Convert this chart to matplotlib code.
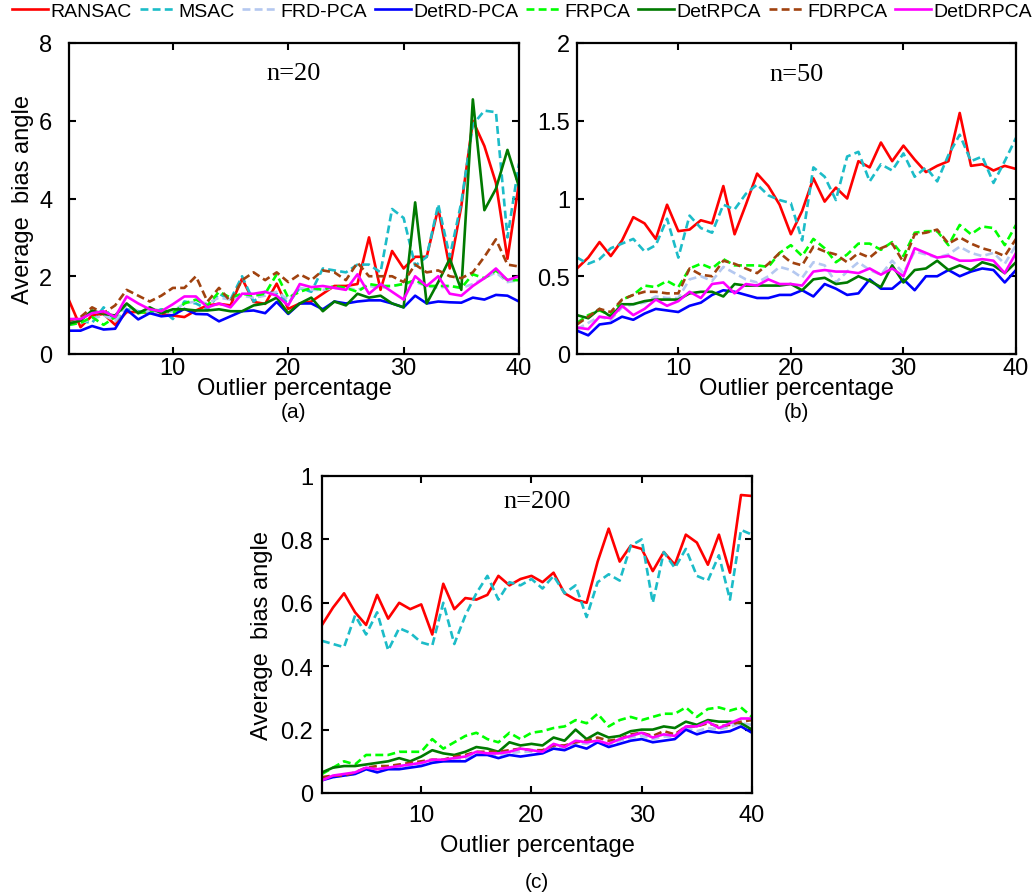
import numpy as np
import matplotlib.pyplot as plt

plt.rcParams['font.family'] = ['Liberation Sans', 'DejaVu Sans']

x = np.arange(1, 41)

methods = ['RANSAC', 'MSAC', 'FRD-PCA', 'DetRD-PCA', 'FRPCA', 'DetRPCA', 'FDRPCA', 'DetDRPCA']

# n=20
ransac_a = [1.38, 0.69, 0.99, 1.03, 0.75, 1.08, 1.08, 1.06, 1.03, 0.99, 0.95, 1.12, 1.25, 1.29, 1.25, 1.94, 1.34, 1.29, 1.81, 1.16,
            1.30, 1.35, 1.55, 1.75, 1.75, 1.80, 3.00, 1.65, 2.65, 2.20, 2.50, 2.50, 3.75, 2.20, 3.80, 6.00, 5.35, 4.40, 2.45, 4.40]
msac_a = [0.80, 0.85, 0.80, 1.20, 0.85, 1.15, 1.10, 1.05, 1.15, 0.90, 1.35, 1.30, 1.15, 1.55, 1.40, 2.00, 1.35, 1.60, 1.55, 1.30,
          1.70, 1.60, 2.20, 2.15, 2.10, 2.30, 2.30, 2.10, 3.73, 3.50, 2.27, 2.50, 3.85, 2.50, 3.90, 5.90, 6.26, 6.22, 3.00, 4.90]
frd_a = [0.75, 0.80, 0.90, 1.00, 0.85, 1.25, 1.10, 1.10, 1.05, 1.10, 1.30, 1.35, 1.30, 1.45, 1.40, 1.50, 1.45, 1.50, 1.60, 1.40,
         1.70, 1.65, 1.65, 1.70, 1.70, 1.65, 1.75, 1.70, 1.75, 1.80, 1.85, 1.75, 1.70, 1.75, 1.70, 1.80, 1.95, 2.10, 1.85, 1.90]
detrd_a = [0.60, 0.60, 0.72, 0.63, 0.65, 1.14, 0.89, 1.05, 0.97, 1.00, 1.16, 1.03, 1.02, 0.84, 0.97, 1.10, 1.12, 1.05, 1.34, 1.03,
           1.30, 1.30, 1.15, 1.35, 1.30, 1.35, 1.38, 1.38, 1.30, 1.20, 1.50, 1.30, 1.35, 1.33, 1.32, 1.45, 1.40, 1.52, 1.50, 1.35]
frpca_a = [0.75, 0.80, 0.95, 0.75, 0.95, 1.30, 1.05, 1.10, 1.15, 1.05, 1.30, 1.40, 1.25, 1.60, 1.45, 1.55, 1.50, 1.55, 2.05, 1.45,
           1.60, 1.70, 1.65, 1.75, 1.70, 1.60, 1.80, 1.75, 1.75, 1.80, 1.90, 1.75, 1.75, 1.75, 1.70, 2.05, 1.95, 2.15, 1.90, 1.90]
detr_a = [0.78, 0.86, 1.12, 1.03, 0.99, 1.30, 1.05, 1.20, 1.05, 1.15, 1.15, 1.12, 1.12, 1.15, 1.10, 1.10, 1.25, 1.30, 1.45, 1.05,
          1.30, 1.45, 1.10, 1.35, 1.25, 1.55, 1.45, 1.50, 1.30, 1.20, 3.90, 1.30, 1.85, 2.45, 1.65, 6.55, 3.70, 4.25, 5.25, 4.30]
fdr_a = [0.85, 0.95, 1.20, 1.05, 1.25, 1.65, 1.50, 1.35, 1.50, 1.70, 1.70, 2.00, 1.35, 1.70, 1.35, 1.90, 2.10, 1.90, 2.10, 1.85,
         2.05, 1.90, 2.15, 2.10, 1.90, 2.35, 2.00, 2.00, 2.00, 1.85, 2.30, 2.10, 2.15, 2.00, 1.95, 2.10, 2.50, 2.95, 2.30, 2.25]
detdr_a = [0.90, 0.90, 1.05, 1.10, 0.95, 1.48, 1.30, 1.15, 1.10, 1.28, 1.48, 1.48, 1.20, 1.30, 1.20, 1.55, 1.55, 1.60, 1.50, 1.25,
           1.80, 1.72, 1.75, 1.70, 1.65, 2.05, 1.55, 1.80, 1.60, 1.40, 2.00, 1.75, 2.00, 1.55, 1.50, 1.75, 1.95, 2.20, 1.90, 2.00]

# n=50
ransac_b = [0.55, 0.62, 0.72, 0.63, 0.73, 0.88, 0.84, 0.74, 0.96, 0.79, 0.80, 0.86, 0.84, 1.08, 0.77, 0.96, 1.16, 1.08, 0.96, 0.77,
            0.92, 1.13, 0.98, 1.07, 1.00, 1.24, 1.20, 1.36, 1.24, 1.34, 1.25, 1.17, 1.21, 1.24, 1.55, 1.21, 1.22, 1.18, 1.21, 1.19]
msac_b = [0.62, 0.58, 0.61, 0.68, 0.71, 0.74, 0.66, 0.70, 0.87, 0.62, 0.89, 0.81, 0.78, 0.96, 0.93, 1.03, 1.09, 1.02, 0.99, 0.97,
          0.73, 1.20, 1.14, 0.99, 1.27, 1.30, 1.11, 1.22, 1.18, 1.29, 1.14, 1.20, 1.11, 1.28, 1.41, 1.24, 1.27, 1.10, 1.24, 1.39]
frd_b = [0.16, 0.20, 0.24, 0.22, 0.30, 0.32, 0.33, 0.37, 0.36, 0.36, 0.48, 0.50, 0.47, 0.56, 0.52, 0.48, 0.46, 0.50, 0.56, 0.54,
         0.49, 0.59, 0.57, 0.46, 0.53, 0.59, 0.54, 0.51, 0.60, 0.52, 0.66, 0.64, 0.62, 0.64, 0.69, 0.65, 0.63, 0.65, 0.58, 0.70]
detrd_b = [0.15, 0.12, 0.19, 0.20, 0.24, 0.22, 0.26, 0.29, 0.28, 0.27, 0.31, 0.33, 0.38, 0.41, 0.40, 0.38, 0.36, 0.36, 0.38, 0.38,
           0.41, 0.37, 0.45, 0.42, 0.38, 0.39, 0.48, 0.42, 0.42, 0.48, 0.41, 0.50, 0.50, 0.54, 0.50, 0.53, 0.55, 0.54, 0.46, 0.54]
frpca_b = [0.20, 0.25, 0.28, 0.25, 0.35, 0.38, 0.44, 0.43, 0.47, 0.43, 0.55, 0.58, 0.55, 0.61, 0.57, 0.57, 0.57, 0.56, 0.65, 0.70,
           0.63, 0.74, 0.68, 0.59, 0.64, 0.71, 0.71, 0.67, 0.72, 0.63, 0.78, 0.79, 0.79, 0.70, 0.83, 0.77, 0.82, 0.81, 0.70, 0.83]
detr_b = [0.25, 0.23, 0.29, 0.24, 0.32, 0.32, 0.34, 0.35, 0.35, 0.35, 0.39, 0.40, 0.40, 0.37, 0.45, 0.44, 0.44, 0.44, 0.44, 0.45,
          0.41, 0.48, 0.49, 0.45, 0.46, 0.50, 0.47, 0.43, 0.57, 0.46, 0.54, 0.55, 0.60, 0.54, 0.57, 0.54, 0.59, 0.57, 0.52, 0.59]
fdr_b = [0.19, 0.24, 0.29, 0.27, 0.35, 0.38, 0.40, 0.40, 0.39, 0.39, 0.55, 0.51, 0.50, 0.60, 0.58, 0.55, 0.52, 0.58, 0.65, 0.59,
         0.57, 0.69, 0.66, 0.64, 0.59, 0.65, 0.62, 0.68, 0.71, 0.59, 0.77, 0.78, 0.80, 0.71, 0.75, 0.71, 0.68, 0.66, 0.63, 0.74]
detdr_b = [0.17, 0.16, 0.24, 0.23, 0.31, 0.25, 0.29, 0.35, 0.31, 0.34, 0.40, 0.36, 0.45, 0.46, 0.39, 0.45, 0.44, 0.48, 0.45, 0.45,
           0.44, 0.53, 0.54, 0.53, 0.53, 0.52, 0.55, 0.51, 0.55, 0.50, 0.68, 0.65, 0.62, 0.63, 0.60, 0.60, 0.61, 0.60, 0.52, 0.65]

# n=200
ransac_c = [0.53, 0.585, 0.63, 0.57, 0.53, 0.625, 0.55, 0.60, 0.58, 0.595, 0.50, 0.66, 0.58, 0.615, 0.61, 0.625, 0.685, 0.655, 0.675, 0.685,
            0.665, 0.695, 0.63, 0.61, 0.60, 0.73, 0.834, 0.73, 0.78, 0.77, 0.70, 0.76, 0.72, 0.815, 0.79, 0.72, 0.815, 0.695, 0.94, 0.937]
msac_c = [0.48, 0.47, 0.46, 0.56, 0.50, 0.57, 0.45, 0.52, 0.505, 0.475, 0.465, 0.60, 0.47, 0.56, 0.63, 0.685, 0.61, 0.665, 0.655, 0.675,
          0.645, 0.685, 0.63, 0.655, 0.555, 0.665, 0.69, 0.67, 0.78, 0.80, 0.60, 0.76, 0.71, 0.77, 0.685, 0.67, 0.75, 0.61, 0.83, 0.815]
frd_c = [0.045, 0.05, 0.055, 0.06, 0.075, 0.07, 0.078, 0.08, 0.085, 0.09, 0.10, 0.10, 0.105, 0.11, 0.125, 0.12, 0.12, 0.125, 0.13, 0.13,
         0.128, 0.148, 0.14, 0.158, 0.155, 0.165, 0.152, 0.165, 0.175, 0.18, 0.17, 0.178, 0.178, 0.205, 0.195, 0.205, 0.20, 0.21, 0.22, 0.215]
detrd_c = [0.04, 0.05, 0.055, 0.06, 0.075, 0.065, 0.075, 0.075, 0.08, 0.085, 0.095, 0.10, 0.10, 0.10, 0.12, 0.12, 0.11, 0.12, 0.115, 0.12,
           0.125, 0.14, 0.135, 0.15, 0.14, 0.16, 0.145, 0.155, 0.165, 0.17, 0.16, 0.165, 0.17, 0.20, 0.185, 0.195, 0.19, 0.195, 0.21, 0.19]
frpca_c = [0.06, 0.08, 0.10, 0.09, 0.12, 0.12, 0.12, 0.13, 0.13, 0.13, 0.17, 0.14, 0.16, 0.18, 0.19, 0.17, 0.16, 0.19, 0.17, 0.19,
           0.195, 0.205, 0.21, 0.23, 0.22, 0.25, 0.21, 0.23, 0.24, 0.23, 0.24, 0.25, 0.25, 0.27, 0.24, 0.265, 0.27, 0.26, 0.27, 0.24]
detr_c = [0.065, 0.08, 0.085, 0.085, 0.09, 0.095, 0.10, 0.11, 0.10, 0.115, 0.135, 0.125, 0.12, 0.13, 0.145, 0.14, 0.13, 0.16, 0.15, 0.155,
          0.15, 0.175, 0.165, 0.20, 0.17, 0.19, 0.175, 0.18, 0.195, 0.20, 0.20, 0.21, 0.205, 0.225, 0.215, 0.23, 0.225, 0.225, 0.22, 0.20]
fdr_c = [0.05, 0.055, 0.055, 0.065, 0.08, 0.085, 0.085, 0.09, 0.095, 0.10, 0.105, 0.105, 0.115, 0.12, 0.13, 0.13, 0.13, 0.135, 0.14, 0.135,
         0.135, 0.15, 0.15, 0.16, 0.165, 0.175, 0.165, 0.17, 0.185, 0.19, 0.18, 0.195, 0.185, 0.21, 0.21, 0.22, 0.21, 0.215, 0.225, 0.23]
detdr_c = [0.04, 0.055, 0.06, 0.065, 0.08, 0.075, 0.08, 0.085, 0.09, 0.095, 0.105, 0.105, 0.11, 0.115, 0.13, 0.125, 0.125, 0.13, 0.14, 0.135,
           0.13, 0.155, 0.145, 0.165, 0.16, 0.165, 0.155, 0.17, 0.18, 0.19, 0.175, 0.185, 0.18, 0.21, 0.21, 0.225, 0.205, 0.22, 0.235, 0.235]

panels = [
    ([ransac_a, msac_a, frd_a, detrd_a, frpca_a, detr_a, fdr_a, detdr_a], 'n=20', (0, 8), [0, 2, 4, 6, 8], ['0', '2', '4', '6', '8'], '(a)'),
    ([ransac_b, msac_b, frd_b, detrd_b, frpca_b, detr_b, fdr_b, detdr_b], 'n=50', (0, 2), [0, 0.5, 1, 1.5, 2], ['0', '0.5', '1', '1.5', '2'], '(b)'),
    ([ransac_c, msac_c, frd_c, detrd_c, frpca_c, detr_c, fdr_c, detdr_c], 'n=200', (0, 1), [0, 0.2, 0.4, 0.6, 0.8, 1], ['0', '0.2', '0.4', '0.6', '0.8', '1'], '(c)'),
]

colors = ['#ff0000', '#1cbcc8', '#b4c8f0', '#0000ff', '#00ff00', '#007a00', '#a0420f', '#ff00ff']
dash = (0, (3, 1.6))
styles = ['-', dash, dash, '-', dash, '-', dash, '-']

W, H = 1036, 895
boxes = [(69, 44, 519, 355), (577, 44, 1016, 355), (322, 477, 752, 794)]
tag_y = [413, 413, 883]
title_y = [0.904, 0.90, 0.92]
xpad = [2, 2, 8]
xlpad = [-1, -1, 6]
ypad = [12, 5, 6.5]
ylpad = [4, 0, 5]

fig = plt.figure(figsize=(W / 100, H / 100), dpi=100)
handles = []
for i, (series, title, ylim, yt, ytl, tag) in enumerate(panels):
    l, t, r, b = boxes[i]
    ax = fig.add_axes([l / W, 1 - b / H, (r - l) / W, (b - t) / H])
    hs = []
    for s, c, ls in zip(series, colors, styles):
        h, = ax.plot(x, s, color=c, linestyle=ls, lw=1.9)
        hs.append(h)
    if i == 0:
        handles = hs
    ax.set_xlim(1, 40)
    ax.set_ylim(*ylim)
    ax.set_xticks([10, 20, 30, 40])
    ax.set_yticks(yt)
    ax.set_yticklabels(ytl)
    ax.tick_params(direction='in', top=True, right=True, labelsize=17, length=5, width=1.5)
    ax.tick_params(axis='x', pad=xpad[i])
    ax.tick_params(axis='y', pad=ypad[i])
    for sp in ax.spines.values():
        sp.set_linewidth(1.6)
    ax.text(0.5, title_y[i], title, transform=ax.transAxes, ha='center', va='center',
            fontsize=19, family='Liberation Serif')
    ax.set_xlabel('Outlier percentage', fontsize=17, labelpad=xlpad[i])
    if i != 1:
        ax.set_ylabel('Average  bias angle', fontsize=17, labelpad=ylpad[i])
    ax.text(0.5, (b - tag_y[i]) / (b - t), tag, transform=ax.transAxes, ha='center', va='center', fontsize=15)

fig.legend(handles, methods, loc='center', bbox_to_anchor=(0.504, 1 - 12 / H), ncol=8, frameon=False,
           fontsize=14, handlelength=1.85, handletextpad=0.12, columnspacing=0.4, borderaxespad=0)

fig.savefig('out.png', dpi=100)
